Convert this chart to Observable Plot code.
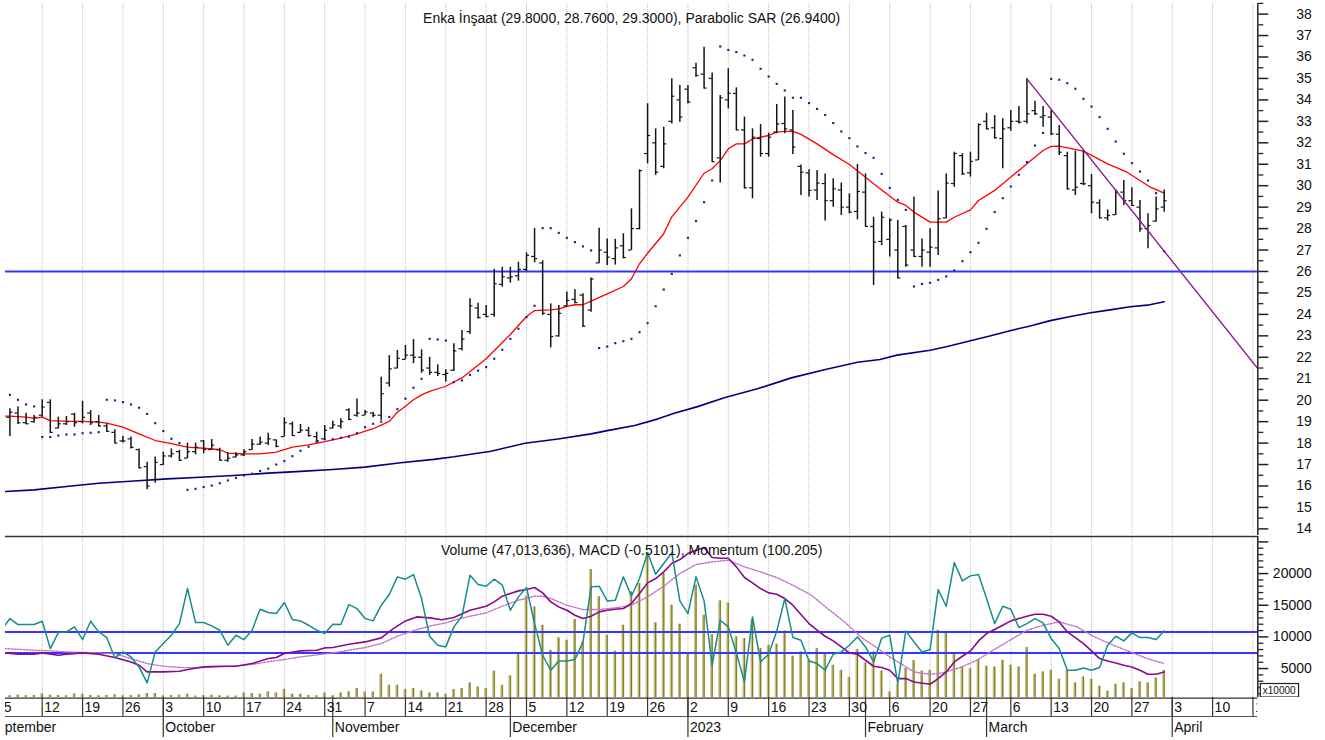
<!DOCTYPE html>
<html lang="tr">
<head>
<meta charset="utf-8">
<title>Enka İnşaat</title>
<script src="https://cdn.jsdelivr.net/npm/d3@7"></script>
<script src="https://cdn.jsdelivr.net/npm/@observablehq/plot@0.6"></script>
<style>
  html, body { margin: 0; padding: 0; background: #fff; }
  #chart { width: 1325px; height: 740px; overflow: hidden; }
  #chart svg { display: block; }
</style>
</head>
<body>
<div id="chart"></div>
<script>
const FONT = "'Liberation Sans', Arial, Helvetica, sans-serif";

// ---------- calendar (Borsa Istanbul trading days; index 0 = 2022-09-05) ----------
const closedDays = ["2023-02-08", "2023-02-09", "2023-02-10", "2023-02-13", "2023-02-14"];
const calendarStart = "2022-09-01", calendarEnd = "2023-04-28", originDay = "2022-09-05";

const weekTickDates = ["2022-09-05","2022-09-12","2022-09-19","2022-09-26","2022-10-03","2022-10-10","2022-10-17","2022-10-24","2022-10-31","2022-11-07","2022-11-14","2022-11-21","2022-11-28","2022-12-05","2022-12-12","2022-12-19","2022-12-26","2023-01-02","2023-01-09","2023-01-16","2023-01-23","2023-01-30","2023-02-06","2023-02-20","2023-02-27","2023-03-06","2023-03-13","2023-03-20","2023-03-27","2023-04-03","2023-04-10","2023-04-17"];
const weekTickLabels = ["5","12","19","26","3","10","17","24","31","7","14","21","28","5","12","19","26","2","9","16","23","30","6","20","27","6","13","20","27","3","10","17"];
const monthStartDates = ["2022-09-01","2022-10-03","2022-11-01","2022-12-01","2023-01-02","2023-02-01","2023-03-01","2023-04-03"];
const monthLabels = ["September","October","November","December","2023","February","March","April"];

// ---------- price panel (bars are trading days 1..144 = 2022-09-06 .. 2023-03-31) ----------
const open = [19.20,19.40,18.95,19.00,19.30,19.90,18.70,18.90,19.35,19.00,
19.40,19.00,18.80,18.50,18.10,18.20,17.70,16.90,16.30,17.00,
17.40,17.60,17.30,17.60,18.10,17.70,17.70,17.20,17.35,17.45,
17.70,17.95,18.00,18.15,18.30,18.90,18.50,18.60,18.30,18.20,
18.70,18.80,19.55,19.30,19.30,19.40,19.30,20.80,21.50,21.90,
22.10,22.00,21.50,21.30,21.20,21.40,22.40,23.20,24.30,24.00,
24.00,25.40,25.70,25.80,26.10,26.70,26.40,24.00,23.00,24.40,
24.70,24.90,24.20,26.40,26.90,26.60,27.20,27.00,28.00,31.50,
32.00,30.90,33.00,34.00,34.50,35.50,35.20,35.00,31.30,34.00,
34.30,32.60,29.90,32.20,31.50,32.50,32.90,32.60,30.90,30.60,
29.80,30.10,29.30,29.80,29.00,28.80,29.70,28.10,27.40,27.50,
27.00,28.10,27.00,26.70,26.90,27.10,28.50,30.10,31.40,30.60,
31.20,33.00,32.70,32.20,32.70,33.00,33.00,33.50,33.20,33.20,
32.40,31.40,29.80,30.10,30.00,29.20,28.50,28.65,29.70,29.30,
29.00,28.00,28.35,29.00];
const high = [19.60,19.70,19.39,19.29,20.02,20.02,19.21,19.24,19.39,19.95,
19.52,19.29,18.90,18.62,18.31,18.28,17.73,17.11,17.35,17.58,
17.73,17.66,18.00,18.00,18.12,18.17,17.76,17.55,17.55,17.69,
18.17,18.28,18.46,18.15,19.18,18.98,18.87,18.74,18.51,18.82,
19.02,19.13,19.60,20.06,19.52,19.44,21.07,22.08,22.32,22.55,
22.83,22.35,22.00,21.65,21.42,22.63,23.25,24.73,24.52,24.41,
26.10,26.20,26.20,26.43,26.87,28.00,26.50,24.49,24.41,25.04,
25.15,24.96,25.70,28.02,27.52,27.50,27.76,28.92,30.74,33.82,
32.65,32.73,34.98,34.67,34.67,35.71,36.46,35.25,34.20,35.45,
34.56,33.20,32.65,32.85,32.45,33.79,34.13,33.51,30.97,30.74,
30.71,30.55,30.32,30.12,29.62,30.99,30.55,28.53,28.77,28.46,
28.38,28.14,29.47,27.52,27.99,29.75,30.55,31.56,31.49,31.56,
32.88,33.38,33.27,33.12,33.51,33.69,34.98,33.94,33.69,33.51,
32.81,31.56,31.61,31.64,30.52,29.34,28.87,29.81,30.24,29.90,
29.31,28.69,29.47,29.80];
const low = [18.31,18.87,18.87,18.93,19.21,18.46,18.66,18.82,18.74,18.90,
18.82,18.74,18.51,17.97,18.00,17.73,16.80,15.82,16.13,16.96,
17.31,17.16,17.27,17.45,17.50,17.69,17.16,17.11,17.30,17.38,
17.66,17.89,17.89,17.78,18.28,18.31,18.46,18.28,18.04,18.12,
18.66,18.66,19.05,19.21,19.29,19.18,19.05,20.61,21.46,21.88,
21.70,21.26,21.15,21.10,20.84,21.34,22.29,23.06,23.79,23.84,
23.87,25.27,25.46,25.55,26.00,26.40,23.95,22.44,22.94,24.34,
24.50,23.40,24.10,26.36,26.28,26.30,26.59,26.98,27.94,31.02,
30.48,30.79,32.88,32.96,33.82,35.06,34.52,31.10,30.12,33.58,
32.57,29.85,29.39,31.33,31.33,32.42,32.42,31.45,29.54,29.47,
29.31,28.35,29.00,28.61,28.69,28.41,28.07,25.35,27.21,26.67,
25.66,26.20,26.67,26.20,26.20,26.75,28.46,29.93,30.48,30.40,
31.17,32.60,32.18,30.79,32.54,32.88,32.88,33.27,32.73,32.34,
31.41,29.81,29.54,30.00,28.69,28.46,28.35,28.61,29.08,29.03,
27.83,27.06,28.30,28.76];
const close = [19.44,18.95,18.90,19.20,19.68,18.50,18.90,19.00,18.95,19.20,
18.95,18.80,18.55,18.00,18.10,17.80,16.85,16.00,17.10,17.40,
17.50,17.20,17.60,17.80,17.70,17.90,17.20,17.30,17.45,17.60,
17.95,18.05,18.20,17.85,18.95,18.35,18.60,18.35,18.10,18.60,
18.85,19.00,19.10,19.40,19.45,19.30,20.30,21.46,21.95,22.10,
22.00,21.40,21.30,21.25,21.25,22.30,22.85,24.40,23.85,23.90,
25.43,25.75,25.75,26.10,26.75,26.60,24.05,22.97,24.05,24.65,
24.55,23.45,25.65,27.00,26.67,27.10,26.65,28.00,30.70,32.34,
30.63,31.95,34.17,33.20,33.90,35.14,34.55,31.12,34.10,34.31,
32.60,29.90,32.26,31.50,32.26,32.88,32.65,31.80,30.63,29.78,
30.12,29.31,29.85,29.00,28.77,29.73,28.10,27.37,28.53,28.40,
25.70,26.30,26.70,27.00,27.13,28.46,30.12,31.50,30.55,31.13,
32.85,32.65,32.23,32.65,33.00,32.96,33.35,33.35,33.27,32.42,
31.56,29.85,29.93,30.09,29.23,28.50,28.61,29.70,29.31,29.08,
27.99,28.14,28.92,29.30];
const parabolicSar = [20.25,20.02,19.80,19.71,18.28,18.28,18.35,18.40,18.40,18.46,
18.48,18.51,20.02,19.99,19.91,19.80,19.65,19.36,18.93,18.56,
18.20,18.00,15.82,15.87,15.95,16.02,16.13,16.26,16.38,16.49,
16.57,16.70,16.81,17.00,17.16,17.39,17.64,17.83,18.06,18.18,
18.18,18.25,18.30,18.46,18.74,18.90,19.00,19.22,19.58,20.07,
20.58,21.00,22.86,22.83,22.78,20.84,20.92,21.18,21.38,21.54,
21.93,22.35,22.86,23.33,23.87,24.40,28.02,28.02,27.80,27.57,
27.37,27.17,26.98,22.43,22.50,22.66,22.75,22.86,23.17,23.59,
24.38,25.16,25.89,26.75,27.57,28.35,29.23,30.24,36.49,36.33,
36.23,36.07,35.87,35.45,35.09,34.75,34.44,34.10,34.10,33.85,
33.58,33.30,32.92,32.53,32.22,31.83,31.52,31.30,30.55,29.90,
29.34,28.87,25.30,25.42,25.47,25.61,25.77,26.05,26.48,26.90,
27.34,27.99,28.77,29.42,29.96,30.51,31.10,31.87,32.46,34.98,
34.94,34.78,34.52,34.05,33.69,33.20,32.65,32.06,31.49,31.05,
30.66,30.24,29.65,26.94];
// moving averages: [trading-day index, value]
const ma20Points = [[0.45,19.26],[1,19.26],[3,19.21],[4,19.15],[5,19.21],[6,19.05],[8,19.01],[10,19.01],[12,18.98],[13,18.93],[15,18.74],[17,18.43],[19,18.12],[21,17.97],[23,17.81],[25,17.76],[27,17.69],[28,17.53],[30,17.50],[32,17.50],[34,17.58],[36,17.81],[38,17.92],[40,18.07],[42,18.23],[44,18.43],[46,18.67],[48,19.01],[49,19.44],[50,19.72],[51,20.02],[52,20.25],[53,20.41],[55,20.65],[57,21.04],[60,21.93],[63,23.06],[65,23.90],[66,24.18],[68,24.21],[69,24.26],[70,24.37],[71,24.45],[72,24.45],[73,24.62],[75,24.96],[77,25.30],[78,25.66],[79,26.36],[80,26.85],[82,27.76],[83,28.55],[85,29.47],[87,30.58],[88,30.79],[89,31.17],[90,31.72],[91,31.95],[92,31.95],[93,32.18],[95,32.34],[96,32.50],[97,32.53],[98,32.53],[99,32.39],[101,31.95],[103,31.45],[105,30.99],[106.5,30.55],[108,30.09],[109,29.80],[111,29.23],[112,29.08],[113,28.77],[115,28.30],[117,28.30],[118,28.53],[120,28.87],[121,29.31],[123,29.78],[125,30.40],[127,31.02],[129,31.64],[130,31.83],[131,31.84],[134,31.61],[137,31.02],[139.4,30.63],[141,30.24],[142.3,29.93],[144,29.65]];
const ma200Points = [[0.45,15.74],[4,15.82],[8,15.98],[12,16.13],[16.4,16.23],[20.5,16.33],[24.6,16.41],[28.7,16.49],[33,16.60],[37,16.68],[41,16.77],[45,16.88],[49.4,17.08],[53.5,17.24],[56,17.36],[60.6,17.62],[64.8,17.99],[68.9,18.19],[73,18.43],[75,18.58],[78.4,18.82],[81.3,19.13],[83.3,19.39],[86.2,19.70],[89.5,20.11],[93.6,20.53],[97.8,21.04],[101.9,21.42],[106,21.77],[108.8,21.90],[110.9,22.10],[115,22.33],[117,22.49],[120,22.77],[122.4,22.99],[124.9,23.24],[127.4,23.46],[129.9,23.71],[132.4,23.90],[134.9,24.08],[137.3,24.21],[139.8,24.36],[141.9,24.43],[144,24.59]];
const trendPoints = [[127, 34.98], [155.6, 21.47]];
const priceLevels = [26];
const priceTicks = d3.range(14, 39);
const priceMinorTicks = d3.range(14.5, 38.6, 1);

// ---------- lower panel (units of x10000 on the right-hand scale) ----------
const volume = [700,800,700,750,1000,800,750,700,1000,950,
750,700,750,850,700,750,850,1050,1050,700,
750,800,950,650,750,800,700,650,650,1150,
1050,950,1310,1150,1680,950,950,750,700,1150,
700,1150,1310,1840,1310,1310,4100,2360,2360,1680,
1840,1450,1150,1150,950,1680,1840,2730,2100,1840,
4580,2360,3840,7470,16420,14740,11840,7890,9840,9470,
12740,9210,20640,16320,10260,7740,11840,17110,18430,23270,
12210,20000,15000,12000,7370,18160,13420,10370,15690,15370,
10000,9740,12740,8160,8680,8840,10950,6950,7630,6310,
8160,7260,5520,4730,3600,8000,5900,7630,4600,1310,
2520,5000,6250,4600,4730,11050,10530,7370,5260,5000,
6420,5370,5260,6310,5520,5260,8320,4100,4470,4730,
3310,4730,2730,3680,3310,2210,1420,2520,2730,1840,
2890,2730,3520,4701];
// momentum line, trading days 0..144 (as drawn on the panel scale)
const momentum = [11160,12896,11948,11948,11948,12475,8157,10685,10790,11580,
9579,12475,10790,9895,6682,7630,6840,5261,2733,7630,
8947,10263,12106,17636,12264,12264,11738,11053,8684,10263,
9579,11053,14371,13844,13686,15424,12738,12528,11843,11053,
10527,12001,11948,15108,14476,12896,12528,15003,16688,19479,
19110,19847,16056,10105,8684,8420,11580,13265,19742,18268,
18004,19110,18162,14213,16319,17794,12106,7104,4734,6208,
6208,6419,9210,17899,18004,15687,15793,19479,16425,19216,
23270,19900,21585,23270,15687,13686,19479,15687,5524,12633,
11580,7472,2891,13160,6051,7262,10895,16056,9895,9473,
6208,5787,4734,7262,7630,8684,10000,8420,6051,9800,
10263,2640,10950,9210,7630,8000,17478,14845,21743,18847,
19637,19847,16056,12106,14845,14371,11475,12106,12896,12212,
9737,8157,4734,4734,5103,4734,5155,8684,10105,9368,
10632,9895,9895,9579,10948];
const macdPoints = [[0.45,7472],[2,7262],[4,7262],[5,7472],[7,7104],[8,7262],[10,7472],[12,7262],[14,6735],[16,6051],[17,5524],[18,4471],[20,4471],[22,4576],[23,4839],[25,5261],[27,5366],[29,5366],[31,5787],[33,6577],[34,6735],[35,7367],[37,7788],[39,7894],[40,8262],[41,8315],[43,8842],[45,9210],[47,9842],[48.5,11317],[50,12528],[51.4,13160],[53,13002],[54.5,12700],[56,13054],[58,14213],[60,14845],[61,15529],[62,16425],[63,16846],[64,17267],[65,17478],[66,17794],[67,16951],[68,15529],[69,14739],[70,14213],[71,13423],[72,12896],[73,13265],[74,13950],[75,14213],[76,14371],[77,14476],[78,15266],[79,16846],[80,18531],[81,19216],[82,20269],[83,21585],[84,22217],[85,23165],[86,23692],[87,24113],[88,22533],[89,22428],[90,22428],[91,21059],[92,19373],[93,18531],[94,17636],[95,16951],[96,16740],[97,16056],[98,15003],[99,13528],[100,12106],[101,11053],[102,10105],[103,9368],[104,8420],[105,7472],[106,7262],[107,6314],[108,5366],[109,5155],[110,4734],[111,3418],[112,3418],[113,2891],[115,2522],[116,3418],[117,4471],[118,6051],[119,6946],[120,7788],[121,9368],[122,10527],[123,11159],[124,11843],[125,12528],[126,12896],[127,13265],[128,13581],[129,13581],[130,13265],[131,12370],[132,10790],[133,9895],[134,8947],[135,7788],[136,6577],[137,6208],[138,5892],[139,5524],[140,5261],[141,4734],[142,4102],[143,4102],[144,4471]];
const signalPoints = [[0.45,8157],[4,7894],[6,7788],[8,7630],[12,7472],[14,7367],[16,6577],[18,5787],[20,5366],[22.5,5155],[24.6,5155],[26.7,5261],[28.7,5366],[30.8,5629],[32.9,6051],[34.9,6419],[37,6840],[39,7156],[41,7472],[43,7894],[45,8315],[47,8947],[49,10105],[51.4,11159],[53.5,11843],[55,12212],[56,12633],[58,13265],[60,13792],[62,14845],[64,15793],[66,16425],[67,16425],[68,16056],[70,15003],[72,14318],[74,14318],[76,14581],[78,15003],[80,16319],[82,18004],[84,20005],[86,21427],[88,21849],[90,22112],[92,21059],[94,20269],[96,19373],[98,18162],[100.3,16583],[102.3,14476],[104.4,12370],[106.5,9900],[108,8640],[110,6840],[111,6051],[113,4471],[115,4102],[116.6,4313],[118.7,5155],[120.8,6314],[122.8,7894],[124.9,9473],[127,11053],[129,11843],[131,12370],[133.2,11580],[135.2,10105],[137.7,8684],[139.8,7630],[141.9,6577],[144,5787]];
const panelLevels = [10790, 7470];
const volumeTicks = [5000, 10000, 15000, 20000, 25000];
const volumeMinorTicks = d3.range(1000, 25001, 1000).filter(v => v % 5000 !== 0);

const upperTitle = "Enka İnşaat (29.8000, 28.7600, 29.3000), Parabolic SAR (26.9400)";
const lowerTitle = "Volume (47,013,636), MACD (-0.5101), Momentum (100.205)";
const unitLabel = "x10000";

// ---------- derived tables ----------
const fmt = d3.utcFormat("%Y-%m-%d");
const tradingDays = d3.utcDays(new Date(calendarStart), d3.utcDay.offset(new Date(calendarEnd), 1))
  .filter(d => d.getUTCDay() !== 0 && d.getUTCDay() !== 6 && !closedDays.includes(fmt(d)))
  .map(fmt);
const originIndex = tradingDays.indexOf(originDay);
const dayIndex = s => tradingDays.indexOf(s) - originIndex;

const weekTicks = weekTickDates.map((d, k) => ({i: dayIndex(d), label: weekTickLabels[k]}));
const monthTicks = monthStartDates.map((d, k) => ({i: dayIndex(d), label: monthLabels[k]}));
const bars = high.map((h, k) => ({i: k + 1, open: open[k], high: h, low: low[k], close: close[k]}));
const sarDots = parabolicSar.map((v, k) => ({i: k + 1, v}));
const volBars = volume.map((v, k) => ({i: k + 1, v}));
const momLine = momentum.map((v, k) => ({i: k, v}));
const toXY = pts => pts.map(([i, v]) => ({i, v}));

const X_DOMAIN = [0.452, 155.6];
const TICK = 0.37;   // open/close tick length, in trading days
const common = {
  width: 1325, marginLeft: 5, marginRight: 67.7,
  style: {fontFamily: FONT, fontSize: "14px", background: "#fff", color: "#111"}
};
const GRID = {stroke: "#bdbdbd", strokeDasharray: "1,1", strokeWidth: 1, clip: true};
const BAR = "#141414";

const upper = Plot.plot({
  ...common, height: 535, marginTop: 3, marginBottom: 0,
  x: {domain: X_DOMAIN, axis: null},
  y: {domain: [13.692, 38.494], axis: null},
  marks: [
    Plot.ruleX(weekTicks, {x: "i", ...GRID}),
    Plot.ruleY(priceLevels, {stroke: "#3535ff", strokeWidth: 2}),
    Plot.line(toXY(ma200Points), {x: "i", y: "v", stroke: "#000080", strokeWidth: 1.6, clip: true}),
    Plot.line(toXY(ma20Points), {x: "i", y: "v", stroke: "#ff0000", strokeWidth: 1.3, clip: true}),
    Plot.ruleX(bars, {x: "i", y1: "low", y2: "high", stroke: BAR, strokeWidth: 1.5}),
    Plot.ruleY(bars, {y: "open", x1: d => d.i - TICK, x2: "i", stroke: BAR, strokeWidth: 1.2}),
    Plot.ruleY(bars, {y: "close", x1: "i", x2: d => d.i + TICK, stroke: BAR, strokeWidth: 1.2}),
    Plot.dot(sarDots, {x: "i", y: "v", r: 1.2, symbol: "square", fill: "#1e1e8c", stroke: null}),
    Plot.line(toXY(trendPoints), {x: "i", y: "v", stroke: "#8b1a8b", strokeWidth: 1.4, clip: true}),
    Plot.ruleX([X_DOMAIN[1]], {stroke: "#222", strokeWidth: 1.5}),
    Plot.axisY({anchor: "right", ticks: priceTicks, tickSize: 10, tickPadding: 44, textAnchor: "end",
      fontSize: 14, label: null, stroke: "#222", strokeWidth: 1.5, fill: "#111"}),
    Plot.axisY({anchor: "right", ticks: priceMinorTicks, tickSize: 5, tickFormat: () => "",
      label: null, stroke: "#222", strokeWidth: 1.3}),
    Plot.text([upperTitle], {frameAnchor: "top", dy: 15, lineAnchor: "middle", fontSize: 14, fill: "#111"})
  ]
});

const lower = Plot.plot({
  ...common, height: 162, marginTop: 1, marginBottom: 0,
  x: {domain: X_DOMAIN, axis: null},
  y: {domain: [431, 25853], axis: null},
  marks: [
    Plot.ruleX(weekTicks, {x: "i", ...GRID}),
    Plot.rectY(volBars, {x1: d => d.i - 0.18, x2: d => d.i + 0.18, y1: 0, y2: "v", fill: "#c4c08a", clip: true}),
    Plot.ruleX(volBars, {x: "i", y1: 0, y2: "v", stroke: "#807c12", strokeWidth: 1.1, clip: true}),
    Plot.ruleY(panelLevels, {stroke: "#3535ff", strokeWidth: 2}),
    Plot.line(toXY(signalPoints), {x: "i", y: "v", stroke: "#c070c8", strokeWidth: 1.4, strokeDasharray: "1.5,1.5", clip: true}),
    Plot.line(toXY(macdPoints), {x: "i", y: "v", stroke: "#8a0a8a", strokeWidth: 1.6, clip: true}),
    Plot.line(momLine, {x: "i", y: "v", stroke: "#168c8c", strokeWidth: 1.5, clip: true}),
    Plot.ruleY([25853], {stroke: "#333", strokeWidth: 1.6}),
    Plot.ruleX([X_DOMAIN[1]], {stroke: "#222", strokeWidth: 1.5}),
    Plot.axisY({anchor: "right", ticks: volumeTicks, tickSize: 10, tickPadding: 44, textAnchor: "end",
      tickFormat: d => (d === 25000 ? "" : String(d)), fontSize: 14, label: null,
      stroke: "#222", strokeWidth: 1.5, fill: "#111"}),
    Plot.axisY({anchor: "right", ticks: volumeMinorTicks, tickSize: 5, tickFormat: () => "",
      label: null, stroke: "#222", strokeWidth: 1.3}),
    Plot.text([lowerTitle], {frameAnchor: "top", dy: 14.5, lineAnchor: "middle", fontSize: 14, fill: "#111"}),
    Plot.text([unitLabel], {frameAnchor: "bottom-right", dx: 5, dy: -4, textAnchor: "start",
      lineAnchor: "bottom", fontSize: 10, fill: "#111"})
  ]
});

const dateAxis = Plot.plot({
  ...common, height: 43, marginTop: 0, marginBottom: 0,
  x: {domain: X_DOMAIN, axis: null},
  y: {domain: [0, 43], range: [0, 43], axis: null},
  marks: [
    Plot.ruleY([0.6], {stroke: "#333", strokeWidth: 1.3}),
    Plot.ruleY([19], {stroke: "#555", strokeWidth: 1.2}),
    Plot.ruleX(weekTicks, {x: "i", y1: 0, y2: 19, stroke: "#333", strokeWidth: 1.2, clip: true}),
    Plot.ruleX(monthTicks, {x: "i", y1: 0, y2: 40, stroke: "#333", strokeWidth: 1.2, clip: true}),
    Plot.text(weekTicks, {x: "i", y: 10, text: "label", textAnchor: "start", dx: 2, fontSize: 14, fill: "#111", clip: true}),
    Plot.text(monthTicks, {x: "i", y: 30, text: "label", textAnchor: "start", dx: 2, fontSize: 14, fill: "#111", clip: true})
  ]
});

const root = document.getElementById("chart");
root.append(upper, lower, dateAxis);

// box around the "x10000" unit label (drawn in the text's own coordinate space)
const unitText = Array.from(lower.querySelectorAll("text")).find(t => t.textContent === unitLabel);
if (unitText) {
  const bb = unitText.getBBox();
  const rect = document.createElementNS("http://www.w3.org/2000/svg", "rect");
  rect.setAttribute("x", bb.x - 2.5);
  rect.setAttribute("y", bb.y - 1);
  rect.setAttribute("width", bb.width + 5);
  rect.setAttribute("height", bb.height + 2.5);
  rect.setAttribute("fill", "#fff");
  rect.setAttribute("stroke", "#222");
  rect.setAttribute("stroke-width", "1.2");
  const tr = unitText.getAttribute("transform");
  if (tr) rect.setAttribute("transform", tr);
  unitText.parentNode.insertBefore(rect, unitText);
}
</script>
</body>
</html>
